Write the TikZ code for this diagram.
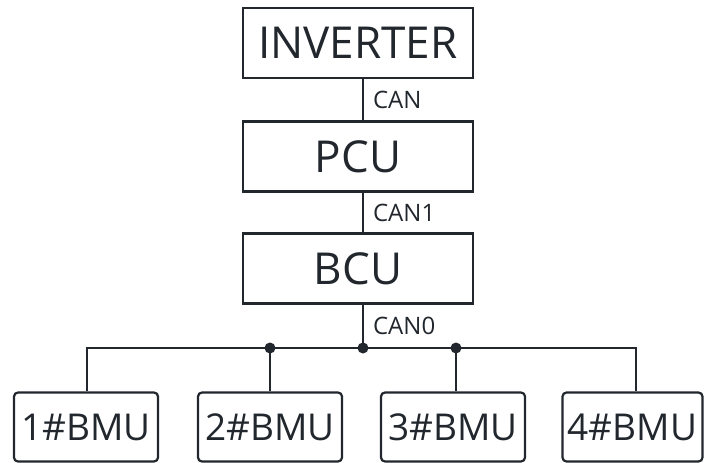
\documentclass[tikz,border=0pt]{standalone}
\usepackage{fontspec}
\setmainfont{Open Sans}
\usetikzlibrary{positioning}
\definecolor{ink}{RGB}{33,39,45}

\begin{document}
\begin{tikzpicture}[x=1pt,y=-1pt,line width=2.2pt,draw=ink,text=ink,
    unit/.style={draw,minimum width=230pt,minimum height=70pt,inner sep=0pt,font=\fontsize{44}{48}\selectfont},
    bmu/.style={draw,rounded corners=4pt,minimum width=144pt,minimum height=69pt,inner sep=0pt,font=\fontsize{37}{40}\selectfont},
    bus label/.style={anchor=west,inner sep=0pt,font=\fontsize{24}{26}\selectfont},
    junction/.style={circle,fill=ink,inner sep=0pt,minimum size=11pt}]
  \useasboundingbox (0,0) rectangle (704,463);

  \node[unit] (inv) at (358,43)    {INVERTER};
  \node[unit] (pcu) at (358,156.5) {PCU};
  \node[unit] (bcu) at (358,268.5) {BCU};

  \node[bmu] (b1) at (86,427)  {1\#BMU};
  \node[bmu] (b2) at (270,427) {2\#BMU};
  \node[bmu] (b3) at (453,427) {3\#BMU};
  \node[bmu,minimum width=140pt] (b4) at (632.5,427) {4\#BMU};

  \coordinate (trunk) at (363,348);
  \coordinate (left)  at (87,348);
  \coordinate (drop3) at (456,348);
  \coordinate (right) at (636,348);

  \draw ([xshift=5pt]inv.south) -- ([xshift=5pt]pcu.north)
        node[bus label,midway,xshift=9pt] {CAN};
  \draw ([xshift=5pt]pcu.south) -- ([xshift=5pt]bcu.north)
        node[bus label,midway,xshift=9pt] {CAN1};
  \draw ([xshift=5pt]bcu.south) -- (trunk)
        node[bus label,midway,xshift=9pt] {CAN0};

  \draw (b1.north -| left) |- (right) -- (b4.north -| right);
  \draw (b2.north) -- (b2.north |- trunk) node[junction] (j2) {};
  \draw (b3.north -| drop3) -- (drop3) node[junction] (j3) {};
  \node[junction] (j0) at (trunk) {};
\end{tikzpicture}
\end{document}
